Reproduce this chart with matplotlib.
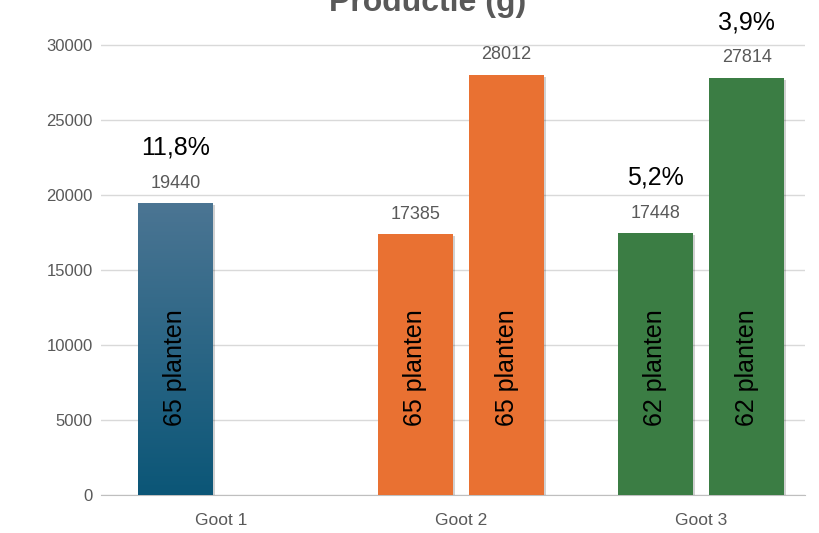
import numpy as np
import matplotlib
matplotlib.use("Agg")
from matplotlib import pyplot as plt
from matplotlib import patheffects as pe

plt.rcParams['font.family'] = ['Liberation Sans', 'DejaVu Sans']

# data
categories = ['Goot 1', 'Goot 2', 'Goot 3']
first_vals = [19440, 17385, 17448]
second_vals = [None, 28012, 27814]
first_plants = ['65 planten', '65 planten', '62 planten']
second_plants = [None, '65 planten', '62 planten']
first_pct = ['11,8%', None, '5,2%']
second_pct = [None, None, '3,9%']
colors = ['#1a5f80', '#E97132', '#3B7D44']

W, H = 819, 533
fig = plt.figure(figsize=(W / 100, H / 100), dpi=100)
ax = fig.add_axes([101 / W, (H - 495) / H, (805 - 101) / W, 480 / H])

x = np.arange(len(categories))
bw = 0.31
off = 0.19
shadow = [pe.SimplePatchShadow(offset=(1.5, -1.5), alpha=0.18, shadow_rgbFace='k'), pe.Normal()]

grey = '#595959'
for i, cat in enumerate(categories):
    for val, plant, pct, dx in [(first_vals[i], first_plants[i], first_pct[i], -off),
                                (second_vals[i], second_plants[i], second_pct[i], off)]:
        if val is None:
            continue
        xc = x[i] + dx
        bar = ax.bar(xc, val, width=bw, color=colors[i], zorder=3)[0]
        bar.set_path_effects(shadow)
        if i == 0:
            # gradient fill for the first group
            grad = np.linspace(0, 1, 256).reshape(-1, 1)
            cmap = matplotlib.colors.LinearSegmentedColormap.from_list('g', ['#0b5677', '#4b7593'])
            im = ax.imshow(grad, extent=[xc - bw / 2, xc + bw / 2, 0, val], origin='lower',
                           aspect='auto', cmap=cmap, zorder=4)
            im.set_clip_path(bar)
        ax.annotate(str(val), (xc, val), xytext=(0, 14.5), textcoords='offset points',
                    ha='center', va='center', fontsize=13, color=grey)
        if pct:
            ax.annotate(pct, (xc, val), xytext=(0, 40), textcoords='offset points',
                        ha='center', va='center', fontsize=18, color='black',
                        annotation_clip=False)
        ax.text(xc, 8500, plant, rotation=90, ha='center', va='center',
                fontsize=18, color='black', zorder=5)

ax.set_xlim(-0.5, 2.433)
ax.set_ylim(0, 32000)
ax.set_yticks(np.arange(0, 30001, 5000))
ax.set_xticks(x)
ax.set_xticklabels(categories)
ax.tick_params(length=0, labelcolor=grey)
ax.tick_params(axis='y', pad=6, labelsize=12)
ax.tick_params(axis='x', pad=13, labelsize=12.5)
ax.grid(axis='y', color='#d9d9d9', linewidth=1, zorder=0)
ax.set_axisbelow(True)
for s in ['top', 'right', 'left']:
    ax.spines[s].set_visible(False)
ax.spines['bottom'].set_color('#bfbfbf')

fig.text(428 / W, 1 - 11 / H, 'Productie (g)', ha='center', va='baseline',
         fontsize=23, fontweight='bold', color=grey)

fig.savefig('out.png', dpi=100)
